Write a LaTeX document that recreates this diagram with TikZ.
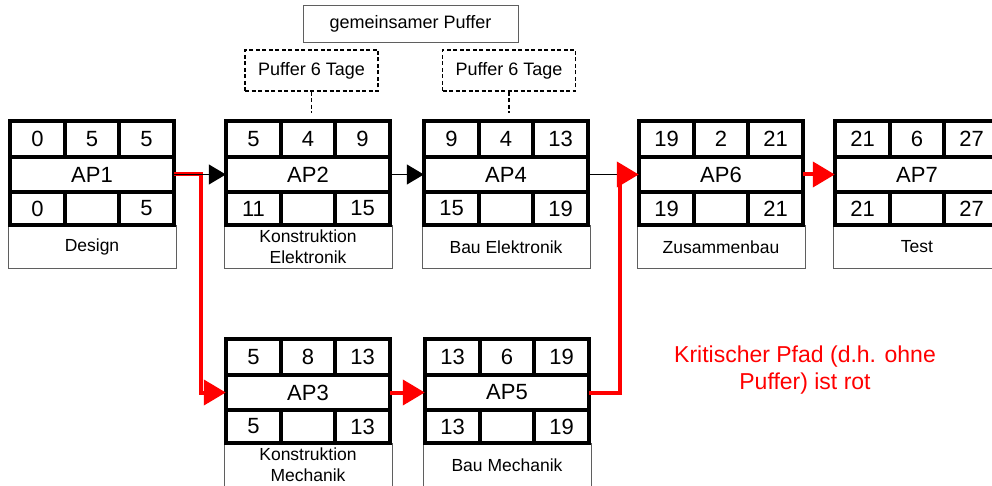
\documentclass[tikz,border=0pt]{standalone}
\usepackage{fontspec}
\setmainfont{Liberation Sans}
\usetikzlibrary{arrows.meta}

\definecolor{critred}{RGB}{255,0,0}
\definecolor{framegray}{RGB}{95,95,95}

\tikzset{
  apframe/.style={line width=4pt, line cap=rect, line join=miter},
  apnum/.style={inner sep=0pt, font=\fontsize{22}{26}\selectfont},
  aptitle/.style={inner sep=0pt, minimum width=164pt, minimum height=35pt,
    font=\fontsize{22}{26}\selectfont},
  aplabel/.style={draw=framegray, line width=0.9pt, fill=white, inner sep=0pt,
    minimum width=168pt, minimum height=43pt, align=center,
    font=\fontsize{17.5}{21}\selectfont},
  flow/.style={line width=1.2pt, -{Triangle[length=17pt,width=20pt]}},
  plainflow/.style={line width=1.2pt},
  crit/.style={draw=critred, line width=4pt, line join=miter,
    -{Triangle[length=22pt,width=25pt,fill=critred]}},
  bufbox/.style={draw, line width=1.2pt, dash pattern=on 4pt off 2.5pt,
    minimum width=133pt, minimum height=41pt, inner sep=0pt,
    font=\fontsize{18}{21}\selectfont},
  bufline/.style={line width=1.2pt, dash pattern=on 4pt off 2.5pt},
  sharedbox/.style={draw=framegray, line width=0.9pt, minimum width=215pt,
    minimum height=37pt, inner sep=0pt, font=\fontsize{18}{21}\selectfont},
  notetext/.style={text=critred, align=center, inner sep=0pt,
    font=\fontsize{23}{27}\selectfont},
}

% work package: #1 name, #2 left, #3 top, #4 ES, #5 duration, #6 EF,
% #7 LS, #8 LF, #9 description
\newcommand\workpackage[9]{%
  \begin{scope}[shift={(#2,#3)}]
    \node[aplabel, anchor=north] (#1-label) at (82,104) {#9};
    \fill[white] (0,0) rectangle (164,104);
    \draw[apframe] (0,0) rectangle (164,104);
    \draw[apframe] (0,36) -- (164,36) (0,71) -- (164,71);
    \draw[apframe] (55,0) -- (55,36) (109,0) -- (109,36)
                   (55,71) -- (55,104) (109,71) -- (109,104);
    \node[apnum] (#1-es) at (27.5,18) {#4};
    \node[apnum] (#1-d)  at (82,18)   {#5};
    \node[apnum] (#1-ef) at (136.5,18) {#6};
    \node[aptitle] (#1) at (82,53.5) {#1};
    \node[apnum] (#1-ls) at (27.5,87.5) {#7};
    \node[apnum] (#1-lf) at (136.5,87.5) {#8};
  \end{scope}}

\begin{document}
\begin{tikzpicture}[x=1pt, y=-1pt]
  \useasboundingbox (0,0) rectangle (992,486);
  \clip (0,0) rectangle (992,486);

  % work packages
  \workpackage{AP1}{10}{121}{0}{5}{5}{0}{5}{Design}
  \workpackage{AP2}{226}{121}{5}{4}{9}{11}{15}{Konstruktion\\Elektronik}
  \workpackage{AP4}{424}{121}{9}{4}{13}{15}{19}{Bau Elektronik}
  \workpackage{AP6}{639}{121}{19}{2}{21}{19}{21}{Zusammenbau}
  \workpackage{AP7}{835}{121}{21}{6}{27}{21}{27}{Test}
  \workpackage{AP3}{226}{339}{5}{8}{13}{5}{13}{Konstruktion\\Mechanik}
  \workpackage{AP5}{425}{339}{13}{6}{19}{13}{19}{Bau Mechanik}

  % buffers
  \node[sharedbox] (sharedbuf) at (410.5,23.5) {gemeinsamer Puffer};
  \node[bufbox] (bufA) at (311.5,70.5) {Puffer 6 Tage};
  \node[bufbox] (bufB) at (509,70.5) {Puffer 6 Tage};
  \coordinate (bufAfoot) at (311.5,113);
  \coordinate (bufBfoot) at (509,113);
  \draw[bufline] (bufA.south) -- (bufAfoot);
  \draw[bufline] (bufB.south) -- (bufBfoot);

  % dependencies (critical path in red)
  \draw[crit] (AP1.east) -- ([xshift=27pt]AP1.east) |- (AP3.west);
  \draw[flow] (AP1.east) -- (AP2.west);
  \draw[flow] (AP2.east) -- (AP4.west);
  \draw[plainflow] (AP4.east) -- (AP6.west);
  \draw[crit] (AP3.east) -- (AP5.west);
  \draw[crit] (AP5.east) -- ([xshift=31pt]AP5.east) |- (AP6.west);
  \draw[crit] (AP6.east) -- (AP7.west);

  % note
  \node[notetext] (note) at (805,370) {Kritischer Pfad (d.h. ohne\\Puffer) ist rot};
\end{tikzpicture}
\end{document}
